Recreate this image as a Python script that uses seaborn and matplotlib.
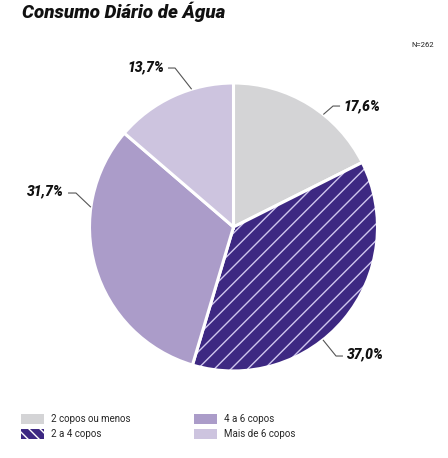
import numpy as np
import matplotlib
matplotlib.use("Agg")
import matplotlib.pyplot as plt
import matplotlib.patches as mpatches
import matplotlib.colors as mcolors
import seaborn as sns

# data
categories = ["2 copos ou menos", "2 a 4 copos", "4 a 6 copos", "Mais de 6 copos"]
shares = [17.6, 37.0, 31.7, 13.7]
n_total = 262
title = "Consumo Diário de Água"

palette = ["#d4d4d6", "#3d2882", "#ab9cc9", "#cdc4df"]
hatches = [None, "//", None, None]

sns.set_theme(style="white")
plt.rcParams["font.family"] = ["Roboto", "DejaVu Sans"]
plt.rcParams["hatch.linewidth"] = 1.0
plt.rcParams["hatch.color"] = "#cfc6ee"

fig = plt.figure(figsize=(4.48, 4.58), dpi=100)
R = 144
cx, cy = 233.5, 227
W, H = 448, 458
ax = fig.add_axes([(cx - R) / W, (H - cy - R) / H, 2 * R / W, 2 * R / H])

wedges, _ = ax.pie(shares, colors=palette, startangle=90, counterclock=False,
                   radius=1.0, wedgeprops=dict(edgecolor="white", linewidth=2.2))
for w, h in zip(wedges, hatches):
    if h:
        w.set_hatch(h)
        w._hatch_color = mcolors.to_rgba("#cfc6ee")
ax.set_xlim(-1, 1)
ax.set_ylim(-1, 1)
ax.set_aspect("auto")
ax.axis("off")

# leader lines: edge angle, elbow, end, text pos, alignment
leaders = [
    (51.4, (0.691, 0.840), (0.740, 0.840), (0.765, 0.840), "left"),
    (-51.6, (0.712, -0.896), (0.760, -0.896), (0.790, -0.886), "left"),
    (172.1, (-1.094, 0.236), (-1.149, 0.236), (-1.176, 0.246), "right"),
    (106.9, (-0.406, 1.104), (-0.455, 1.104), (-0.478, 1.108), "right"),
]
for val, (ang, elbow, end, tpos, ha) in zip(shares, leaders):
    a = np.deg2rad(ang)
    p0 = (np.cos(a), np.sin(a))
    ax.plot([p0[0], elbow[0], end[0]], [p0[1], elbow[1], end[1]],
            color="#555555", lw=0.8, clip_on=False, solid_capstyle="butt")
    ax.text(tpos[0], tpos[1], f"{val:.1f}%".replace(".", ","), ha=ha, va="center",
            fontsize=10, fontweight="heavy", fontstyle="italic", color="#111111")

fig.text(22 / W, 1 - 12 / H, title, fontsize=13.5, fontweight="heavy",
         fontstyle="italic", color="#111111", va="center", ha="left")
fig.text(434 / W, 1 - 45 / H, f"N={n_total}", fontsize=5.5, color="#222222",
         ha="right", va="center")

legend_hatches = [None, "\\\\\\", None, None]
handles = [mpatches.Patch(facecolor=c, edgecolor="white", linewidth=0, hatch=h, label=l)
           for c, h, l in zip(palette, legend_hatches, categories)]
fig.legend(handles=handles, ncol=2, loc="upper left",
           bbox_to_anchor=(17 / W, 1 - 410 / H), frameon=False, fontsize=7,
           handlelength=2.4, handleheight=1.25, handletextpad=0.7,
           columnspacing=6.5, labelspacing=0.45, borderaxespad=0)

fig.savefig("out.png", dpi=100)
